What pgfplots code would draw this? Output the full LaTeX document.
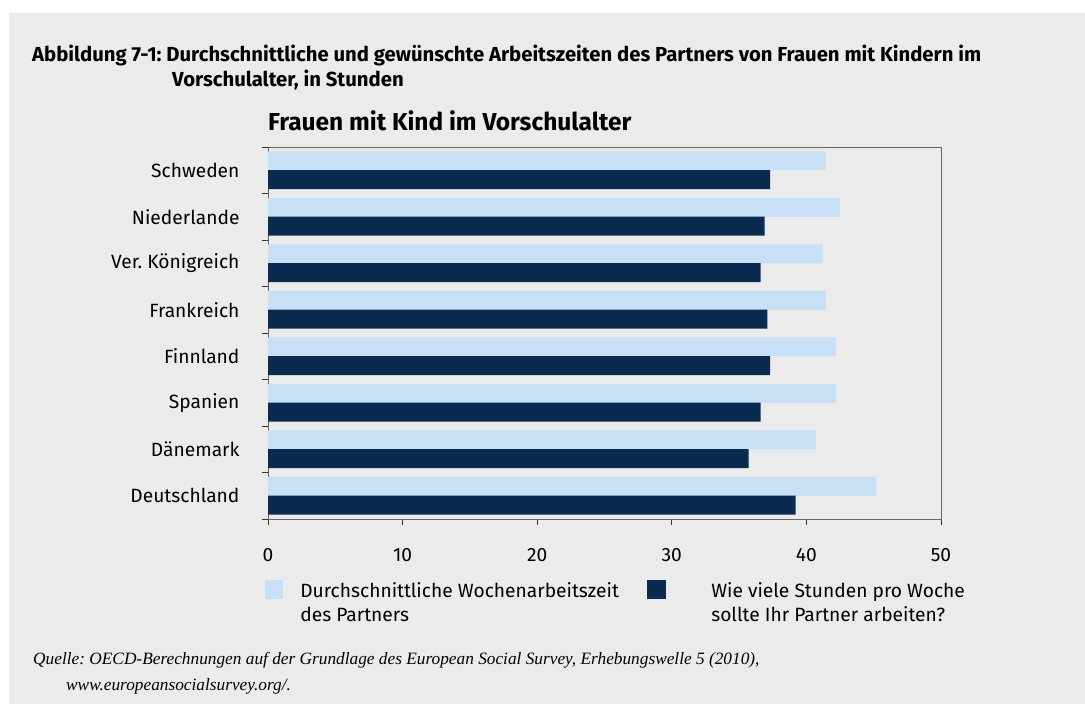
\documentclass[border=0pt]{standalone}
\usepackage{fontspec}
\setmainfont{Fira Sans}
\newfontfamily\footfont{Liberation Serif}
\usepackage{pgfplots}
\pgfplotsset{compat=1.18}
\definecolor{bg}{HTML}{EBEBEB}
\definecolor{lightbar}{HTML}{C8E0F5}
\definecolor{darkbar}{HTML}{0A2A50}
\begin{document}
\frenchspacing
\begin{tikzpicture}[x=1pt,y=1pt]
\path[use as bounding box] (0,0) rectangle (1085,704);
\fill[white] (0,0) rectangle (1085,704);
\fill[bg] (9,0) rectangle (1085,691);
\node[anchor=base west, font=\fontsize{20.3}{24}\selectfont\bfseries, inner sep=0] at (32,642) {Abbildung 7-1: Durchschnittliche und gewünschte Arbeitszeiten des Partners von Frauen mit Kindern im};
\node[anchor=base west, font=\fontsize{20.3}{24}\selectfont\bfseries, inner sep=0] at (172,617) {Vorschulalter, in Stunden};
\node[anchor=base west, font=\fontsize{24.5}{28}\selectfont\bfseries, inner sep=0] at (268,573) {Frauen mit Kind im Vorschulalter};
\node[anchor=base west, font=\footfont\itshape\fontsize{17.3}{20}\selectfont, inner sep=0] at (33,39) {Quelle: OECD-Berechnungen auf der Grundlage des European Social Survey, Erhebungswelle 5 (2010),};
\node[anchor=base west, font=\footfont\itshape\fontsize{17.3}{20}\selectfont, inner sep=0] at (66,13) {www.europeansocialsurvey.org/.};
\begin{axis}[
  at={(268pt,185pt)}, anchor=south west,
  width=673pt, height=372pt, scale only axis,
  xbar, bar width=0.41,
  xmin=0, xmax=50, ymin=-0.5, ymax=7.5,
  xtick={0,10,...,50},
  ytick={-0.5,0.5,...,7.5},
  y tick label as interval,
  yticklabels={Deutschland,Dänemark,Spanien,Finnland,Frankreich,Ver. Königreich,Niederlande,Schweden},
  xtick pos=bottom, ytick pos=left,
  tick align=outside, major tick length=6pt,
  tick style={black!80, line width=0.8pt},
  axis line style={black!60, line width=0.8pt},
  every tick label/.append style={font=\fontsize{19.2}{23}\selectfont},
  /pgf/number format/assume math mode=true,
  yticklabel style={xshift=-19pt},
  xticklabel style={yshift=-20pt},
  legend columns=2,
  legend style={at={(-0.004,-0.164)}, anchor=north west, draw=none, fill=none,
    inner sep=0pt, outer sep=0pt, column sep=0pt, row sep=0pt,
    font=\fontsize{19.2}{24}\selectfont,
    nodes={inner sep=0pt, anchor=base west}},
]
\addplot[fill=lightbar, draw=none, bar shift=0.2,
  legend image code/.code={\fill[lightbar] (0pt,-2pt) rectangle (18pt,17pt); \path[draw=none,fill=none] (0pt,0pt) rectangle (35pt,1pt);}]
  coordinates {(45.2,0) (40.7,1) (42.2,2) (42.2,3) (41.45,4) (41.2,5) (42.5,6) (41.45,7)};
\addlegendentry{\parbox[t]{347pt}{Durchschnittliche Wochenarbeitszeit\\des Partners}}
\addplot[fill=darkbar, draw=none, bar shift=-0.2,
  legend image code/.code={\fill[darkbar] (0pt,-2pt) rectangle (19pt,17pt); \path[draw=none,fill=none] (0pt,0pt) rectangle (64pt,1pt);}]
  coordinates {(39.2,0) (35.7,1) (36.6,2) (37.3,3) (37.1,4) (36.6,5) (36.9,6) (37.3,7)};
\addlegendentry{\parbox[t]{300pt}{Wie viele Stunden pro Woche\\sollte Ihr Partner arbeiten?}}
\end{axis}
\end{tikzpicture}
\end{document}
